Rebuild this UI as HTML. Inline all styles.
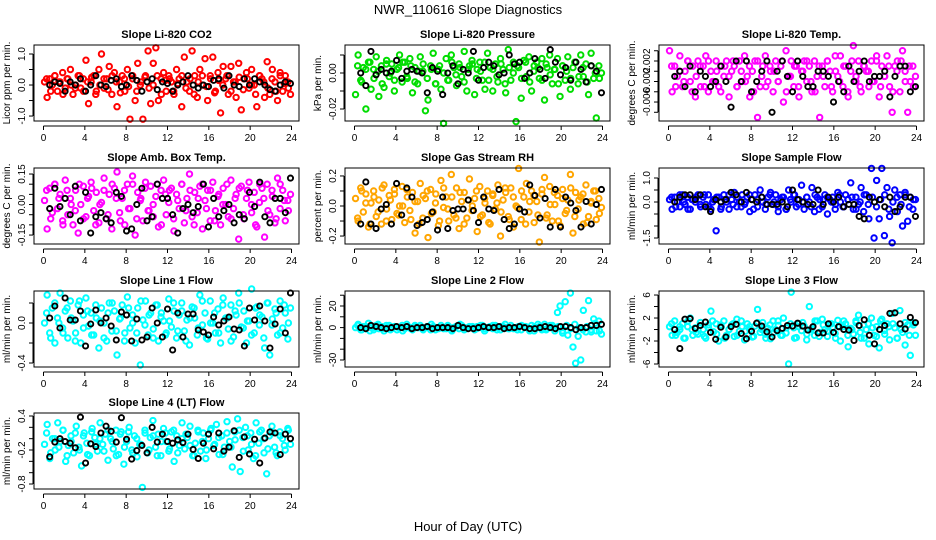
<!DOCTYPE html>
<html><head><meta charset="utf-8"><style>
body{margin:0;background:#fff}
svg{display:block;font-family:"Liberation Sans",Arial,sans-serif}
</style></head><body>
<svg id="chart" width="936" height="540" viewBox="0 0 936 540">
<text x="468" y="14" text-anchor="middle" font-size="13">NWR_110616  Slope Diagnostics</text>
<text x="468" y="531" text-anchor="middle" font-size="13">Hour of Day (UTC)</text>
</svg>
<script>
const xTicks=[0,4,8,12,16,20,24];
const titles=["Slope Li-820 CO2","Slope Li-820 Pressure","Slope Li-820 Temp.","Slope Amb. Box Temp.","Slope Gas Stream RH","Slope Sample Flow","Slope Line 1 Flow","Slope Line 2 Flow","Slope Line 3 Flow","Slope Line 4 (LT) Flow"];
const yLabels=["Licor ppm per min.","kPa per min.","degrees C per min.","degrees C per min.","percent per min.","ml/min per min.","ml/min per min.","ml/min per min.","ml/min per min.","ml/min per min."];
const colors=["#ff0000","#00dd00","#ff00ff","#ff00ff","#ffa500","#0000ff","#00ffff","#00ffff","#00ffff","#00ffff"];
const yDomains=[[-1.16,1.29],[-0.02667,0.01556],[-0.0097,0.00512],[-0.194,0.1796],[-0.253,0.253],[-1.75,1.417],[-0.44,0.32],[-36.5,33.9],[-6.52,6.7],[-0.888,0.453]];
const yTicks=[[-1,-0.5,0,0.5,1],[-0.02,-0.01,0,0.01],[-0.008,-0.006,-0.004,-0.002,0,0.002,0.004],[-0.15,-0.1,-0.05,0,0.05,0.1,0.15],[-0.2,-0.1,0,0.1,0.2],[-1.5,-1,-0.5,0,0.5,1],[-0.4,-0.2,0,0.2],[-30,-20,-10,0,10,20,30],[-6,-4,-2,0,2,4,6],[-0.8,-0.6,-0.4,-0.2,0,0.2,0.4]];
const yTickLabels=[{"-1":"-1.0","0":"0.0","1":"1.0"},{"-0.02":"-0.02","0":"0.00"},{"-0.006":"-0.006","-0.002":"-0.002","0.002":"0.002"},{"-0.15":"-0.15","0":"0.00","0.15":"0.15"},{"-0.2":"-0.2","0":"0.0","0.2":"0.2"},{"-1.5":"-1.5","0":"0.0","1":"1.0"},{"-0.4":"-0.4","0":"0.0"},{"-30":"-30","0":"0","20":"20"},{"-6":"-6","-2":"-2","2":"2","6":"6"},{"-0.8":"-0.8","-0.2":"-0.2","0.4":"0.4"}];

const c1=[0.1,-0.4,0.2,0.0,0.3,-0.2,0.1,0.4,-0.1,0.2,0.5,-0.3,0.0,0.3,-0.1,0.2,0.8,-0.6,0.1,0.3,-0.2,0.5,1.0,-0.1,0.2,0.6,-0.3,0.4,-0.7,0.1,0.3,-0.2,0.5,-1.1,0.2,-0.5,0.7,0.0,-1.1,0.3,1.1,-0.6,0.7,1.2,-0.5,0.2,0.4,-0.2,0.3,0.1,-0.3,0.5,0.2,-0.7,0.9,0.1,-0.2,1.1,0.3,-0.4,0.5,0.0,0.85,-0.5,0.3,0.9,-0.2,0.4,-0.9,0.6,0.2,-0.3,0.6,0.1,-0.4,0.7,-0.8,0.2,0.4,-0.1,0.5,0.0,-0.7,0.3,0.2,-0.4,0.75,-0.3,0.5,0.1,-0.5,0.4,-0.2,0.3,0.1,-0.3];
const d1=[0.2,-0.2,0.3,0.1,-0.3,0.2,0.0,-0.1,0.3,-0.2,0.1,0.25,-0.3,0.0,0.2,-0.15,0.3,0.1,-0.25,0.2,-0.05,0.3,-0.2,0.1,0.25,-0.1,0.0,0.3,-0.3,0.15,0.2,-0.2,0.05,0.3,-0.1,0.2,-0.3,0.1,0.3,-0.05,0.2,-0.25,0.15,0.0,0.3,-0.2,0.1,0.25,-0.15,0.2,0.0,-0.3,0.3,0.1,-0.1,0.2,-0.2,0.3,0.05,-0.1];
const k1=[0.0,0.1,0.05,-0.2,0.1,0.0,0.2,-0.2,0.0,0.3,0.0,-0.05,0.15,0.2,-0.05,0.0,0.3,0.15,-0.2,0.1,0.2,-0.15,0.1,0.05,-0.2,0.0,0.1,0.3,0.0,-0.1,0.0,-0.05,0.15,0.2,-0.1,0.3,0.0,-0.05,0.2,0.0,0.2,0.1,0.0,-0.15,-0.2,0.0,0.1,0.05];
const c2=[-0.012,0.010,-0.004,0.003,-0.020,0.006,-0.009,0.002,0.009,-0.013,0.004,-0.008,0.007,-0.002,0.005,-0.010,0.002,0.010,-0.005,0.006,-0.003,0.008,-0.011,0.003,-0.006,0.009,0.001,-0.021,-0.015,0.004,0.011,-0.006,0.002,-0.009,-0.028,0.008,-0.004,0.010,0.003,-0.007,0.005,-0.002,0.012,-0.010,0.004,0.007,-0.012,0.002,0.006,-0.004,-0.009,0.011,0.003,-0.010,0.005,-0.005,0.008,0.002,-0.011,0.013,-0.004,0.006,-0.027,0.003,-0.014,0.007,-0.002,0.009,-0.010,0.004,0.006,-0.003,0.008,-0.015,0.003,0.010,-0.006,0.002,0.008,-0.013,0.004,-0.004,0.009,-0.009,0.003,0.006,-0.006,0.010,-0.002,0.005,-0.012,0.011,-0.003,-0.025,0.004,0.000];
const d2=[0.004,-0.005,0.002,0.006,-0.003,0.001,-0.006,0.005,0.000,-0.004,0.003,0.006,-0.002,0.004,-0.005,0.001,0.005,-0.003,0.002,-0.006,0.004,0.000,-0.004,0.006,-0.001,0.003,-0.005,0.002,0.005,-0.003,0.001,0.006,-0.004,0.002,-0.002,0.005,-0.006,0.003,0.000,0.004,-0.003,0.006,-0.005,0.001,0.003,-0.004,0.005,-0.001,0.002,-0.006,0.004,0.001,-0.003,0.006,-0.002,0.003,-0.005,0.004,0.000,-0.003];
const k2=[0.000,-0.007,0.012,-0.001,0.002,0.000,0.001,0.007,-0.003,0.001,0.002,0.001,0.000,-0.011,0.003,0.001,-0.012,0.000,0.004,-0.006,0.002,0.000,0.012,-0.004,0.003,0.006,0.004,-0.001,0.000,0.010,0.005,0.006,-0.003,0.000,0.008,0.002,-0.003,0.013,0.006,-0.001,0.003,-0.004,0.006,0.002,-0.005,0.004,0.001,-0.011];
const c3=[0.004,-0.004,0.001,-0.001,0.003,-0.003,0.000,0.002,-0.002,0.001,-0.005,0.002,-0.003,0.001,0.003,-0.004,0.000,-0.002,0.002,-0.003,0.001,-0.001,0.002,-0.005,0.000,0.001,-0.003,0.002,-0.002,0.003,-0.001,-0.005,0.000,0.002,-0.009,-0.003,0.001,0.003,-0.002,0.000,-0.004,0.002,-0.002,0.001,-0.006,0.004,-0.001,0.002,-0.003,0.001,-0.005,0.000,0.002,-0.002,0.001,-0.004,0.002,-0.001,-0.009,0.001,-0.003,0.002,0.000,-0.004,0.003,-0.001,0.003,-0.003,0.001,-0.005,0.000,0.005,-0.002,0.002,-0.004,0.001,0.000,-0.003,0.002,-0.002,0.003,-0.005,0.001,-0.001,0.003,-0.003,-0.008,0.001,0.002,-0.004,0.004,0.000,-0.008,-0.002,0.001,-0.001];
const d3=[0.001,-0.003,0.000,-0.002,0.002,-0.004,-0.001,0.001,-0.003,0.002,-0.002,0.000,-0.004,0.001,-0.001,0.002,-0.003,0.000,-0.002,0.001,-0.004,0.002,-0.001,-0.003,0.001,0.000,-0.002,0.002,-0.004,-0.001,0.001,-0.003,0.000,0.002,-0.002,-0.004,0.001,-0.001,0.002,-0.003,0.000,-0.002,0.001,-0.004,0.002,-0.001,-0.003,0.001,0.000,-0.002,0.002,-0.003,-0.001,0.001,-0.004,0.000,0.002,-0.002,0.001,-0.003];
const k3=[-0.001,0.000,-0.003,0.001,-0.004,0.000,-0.001,-0.003,-0.002,0.001,-0.002,-0.007,0.002,-0.002,0.002,-0.004,-0.002,0.000,0.002,-0.008,0.000,0.002,-0.001,-0.004,0.002,-0.001,-0.003,-0.003,0.000,0.000,-0.001,-0.006,-0.002,-0.004,0.001,-0.002,0.000,0.002,-0.002,-0.001,-0.001,0.000,-0.005,-0.001,0.001,0.001,-0.004,-0.003];
const c4=[0.02,-0.12,0.08,-0.04,0.10,-0.02,0.05,-0.08,0.12,-0.05,0.03,-0.10,0.07,-0.14,0.00,0.09,-0.06,0.04,0.11,-0.03,0.06,-0.09,0.01,0.13,-0.07,0.05,-0.12,0.08,0.16,-0.04,0.03,-0.10,0.10,-0.02,0.14,-0.15,0.06,0.02,-0.08,0.11,-0.03,0.09,-0.06,0.04,-0.11,0.07,0.12,-0.05,0.01,0.08,-0.13,0.05,-0.02,0.10,-0.09,0.03,0.15,-0.06,0.06,-0.04,0.09,-0.12,0.02,0.07,-0.08,0.11,-0.03,0.04,-0.10,0.08,0.00,-0.06,0.12,-0.02,0.05,-0.17,0.09,-0.07,0.03,0.11,-0.04,0.06,-0.11,0.01,0.08,-0.16,0.10,-0.05,0.04,-0.09,0.13,-0.02,0.07,-0.08,0.02,0.05];
const d4=[0.07,-0.07,0.1,0.03,-0.1,0.07,0.0,-0.03,0.1,-0.07,0.03,0.08,-0.1,0.0,0.07,-0.05,0.1,0.03,-0.08,0.07,-0.02,0.1,-0.07,0.03,0.08,-0.03,0.0,0.1,-0.1,0.05,0.07,-0.07,0.02,0.1,-0.03,0.07,-0.1,0.03,0.1,-0.02,0.07,-0.08,0.05,0.0,0.1,-0.07,0.03,0.08,-0.05,0.07,0.0,-0.1,0.1,0.03,-0.03,0.07,-0.07,0.1,0.02,-0.03];
const k4=[-0.02,0.08,-0.01,0.03,-0.05,0.09,-0.08,0.06,-0.14,-0.06,-0.04,-0.07,-0.09,0.06,0.04,-0.13,-0.12,0.00,0.08,-0.08,-0.06,0.10,0.03,0.03,-0.05,-0.14,-0.02,0.00,-0.04,-0.01,0.10,-0.11,0.03,-0.06,-0.03,0.00,-0.09,-0.05,-0.07,0.06,-0.01,0.11,-0.06,-0.09,0.03,0.03,-0.04,0.13];
const c5=[0.05,-0.10,0.12,-0.04,0.08,-0.14,0.02,0.10,-0.07,0.04,-0.12,0.14,-0.02,0.07,-0.09,0.11,-0.05,0.00,0.13,-0.11,0.06,-0.03,0.09,-0.18,0.03,0.15,-0.08,0.05,-0.21,0.11,-0.04,0.08,-0.13,0.17,-0.01,0.06,-0.10,0.21,-0.06,0.12,-0.15,0.03,0.09,-0.08,0.18,-0.03,0.05,-0.17,0.13,-0.06,0.02,0.10,-0.12,0.07,-0.02,0.14,-0.20,0.04,0.09,-0.07,0.12,-0.14,0.00,0.25,-0.09,0.06,0.15,-0.04,0.10,-0.11,0.03,-0.24,0.08,0.19,-0.06,0.13,-0.10,0.01,0.07,-0.13,0.11,-0.05,0.04,0.21,-0.18,0.09,-0.02,0.06,-0.12,0.14,-0.07,0.03,0.10,-0.09,0.05,-0.01];
const d5=[-0.08,0.1,0.02,-0.12,0.06,-0.04,0.12,-0.1,0.04,0.08,-0.06,0.0,0.11,-0.09,0.03,-0.12,0.07,0.1,-0.05,0.02,-0.1,0.12,-0.02,0.06,-0.08,0.09,-0.12,0.04,0.0,0.1,-0.07,0.05,-0.11,0.08,0.02,-0.04,0.12,-0.09,0.06,-0.01,0.1,-0.12,0.03,0.07,-0.06,0.11,-0.08,0.01,0.09,-0.1,0.05,-0.03,0.12,-0.07,0.04,0.08,-0.11,0.02,0.1,-0.05];
const k5=[-0.12,0.16,-0.12,-0.15,-0.02,0.01,-0.12,0.15,-0.06,0.12,0.06,-0.13,-0.11,-0.09,-0.04,-0.16,0.06,-0.15,-0.03,-0.02,-0.02,0.04,-0.03,-0.11,0.06,-0.02,-0.03,0.11,-0.09,-0.15,-0.12,-0.02,-0.04,0.14,0.07,-0.08,0.05,-0.14,0.11,-0.14,0.06,0.02,-0.03,-0.14,0.03,-0.12,0.01,0.11];
const c6=[0.1,-0.3,0.2,0.0,-0.2,0.3,-0.1,0.2,-0.3,0.1,0.0,0.3,-0.2,0.2,-0.1,0.3,-0.3,0.1,-1.2,0.2,-0.2,0.3,0.0,-0.3,0.1,0.4,-0.2,0.0,0.3,-0.1,0.2,-0.4,0.1,0.3,-0.2,0.5,0.0,-0.3,0.2,0.4,-0.1,0.3,-0.4,0.1,0.2,-0.3,0.5,0.0,0.3,-0.2,0.1,0.7,-0.3,0.2,0.0,0.6,-0.4,0.2,0.1,-0.2,0.3,-0.5,0.1,0.2,-0.3,0.4,0.0,-0.2,0.3,0.1,0.8,-0.3,0.2,-0.1,0.6,-0.4,0.3,-0.7,1.4,-1.5,0.9,-0.7,1.4,-1.4,0.6,-0.6,-1.7,0.5,-0.4,0.3,-1.0,0.4,-0.8,0.2,-0.3,0.1];
const d6=[0.2,-0.2,0.3,0.0,-0.3,0.1,0.2,-0.1,0.3,-0.2,0.0,0.2,-0.3,0.1,0.3,-0.1,0.2,-0.2,0.0,0.3,-0.3,0.1,0.2,-0.1,0.3,0.0,-0.2,0.2,-0.3,0.1,0.3,-0.1,0.0,0.2,-0.2,0.3,-0.3,0.1,0.2,0.0,-0.1,0.3,-0.2,0.1,0.2,-0.3,0.0,0.3,-0.1,0.2,-0.2,0.1,0.3,-0.3,0.0,0.2,-0.1,0.3,-0.2,0.1];
const k6=[0.0,0.2,0.3,0.3,0.1,0.3,-0.2,-0.4,0.1,0.0,0.1,0.4,0.3,0.0,0.4,0.1,0.0,0.2,-0.1,-0.1,-0.1,0.0,-0.2,0.5,0.1,0.0,-0.1,-0.1,0.5,-0.1,0.2,0.0,0.2,-0.2,-0.1,-0.1,-0.6,-0.7,0.2,0.0,0.1,-0.2,0.2,-0.4,-0.2,0.2,0.2,-0.6];
const c7=[0.0,0.28,-0.1,0.15,-0.20,0.05,0.30,-0.05,0.12,-0.15,0.22,0.02,-0.10,0.18,-0.20,0.08,0.25,-0.03,0.10,-0.12,0.05,-0.25,0.15,0.00,-0.18,0.20,-0.08,0.12,-0.32,0.04,0.18,-0.10,0.26,-0.05,0.08,-0.20,0.15,-0.42,0.03,0.22,-0.12,0.10,-0.06,0.18,-0.18,0.06,0.02,-0.10,0.24,-0.04,0.12,-0.15,0.08,0.20,-0.08,0.03,-0.22,0.16,0.05,-0.12,0.28,-0.02,0.10,-0.16,0.22,0.00,-0.10,0.14,-0.20,0.25,0.05,-0.06,0.18,-0.14,0.08,0.30,-0.04,0.12,-0.20,0.02,0.34,-0.10,0.16,-0.02,0.06,-0.25,0.20,-0.32,0.04,0.14,-0.12,0.22,-0.05,0.10,-0.16,0.15];
const d7=[0.1,-0.15,0.2,0.0,-0.1,0.15,0.05,-0.18,0.22,-0.05,0.12,-0.12,0.18,0.02,-0.15,0.1,0.2,-0.08,0.05,-0.18,0.15,0.0,-0.1,0.22,-0.02,0.08,-0.15,0.18,0.1,-0.12,0.02,0.2,-0.08,0.12,-0.18,0.05,0.15,-0.05,0.22,-0.15,0.0,0.1,-0.1,0.18,0.05,-0.18,0.12,0.2,-0.05,0.02,-0.12,0.15,0.08,-0.15,0.2,-0.02,0.1,-0.1,0.18,0.0];
const k7=[0.05,0.17,-0.05,0.25,0.03,0.03,0.12,-0.23,-0.01,0.13,0.00,0.05,-0.03,-0.17,0.11,0.08,-0.18,0.04,-0.17,-0.14,0.15,0.00,-0.14,0.14,-0.27,0.10,-0.14,0.09,0.09,-0.07,-0.09,-0.12,0.06,-0.02,0.02,0.06,-0.06,-0.07,-0.23,0.15,0.03,0.17,0.02,-0.25,-0.01,0.14,-0.10,0.30];
const c8=[0,3,-2,1,-1,4,0,-2,2,-1,1,-3,0,2,-1,1,-2,0,2,-1,1,0,-2,1,0,2,-1,0,1,-2,1,0,-1,2,0,-1,1,-2,0,1,-1,2,0,-1,1,0,-2,1,0,2,-1,0,1,-1,2,0,-2,1,0,-1,2,-1,0,1,-2,1,0,-1,2,-3,0,1,-2,3,-1,0,2,-3,14,20,-5,24,-7,32,-18,-33,-8,-30,16,-4,25,-2,8,-3,6,-6];
const d8=[2,-2,1,-3,0,3,-1,2,-2,1,0,-3,3,-1,2,0,-2,1,3,-2,0,-1,2,-3,1,3,-2,0,1,-1,2,-3,0,2,-2,1,3,-1,0,-2,2,1,-3,0,3,-1,-2,2,0,1,-3,2,-1,3,0,-2,1,-4,4,-3];
const k8=[0,-1,2,1,0,-1,0,1,0,1,-1,0,0,1,-1,0,0,0,-1,2,0,-1,-1,0,1,0,0,1,-1,0,0,1,0,-1,-1,0,1,0,-1,1,1,0,-2,0,0,2,2,3];
const c9=[0.5,-1,1.5,-0.5,0,1,-1.5,0.5,2,-1,0.3,-0.8,1.2,0,-1.5,0.8,3.2,-0.4,1,-2,0.5,1.5,-1,0,0.8,-1.2,1.8,-0.3,0.5,-1.8,1,0,-1.3,0.6,3.5,-0.5,1.2,-0.8,0.2,-1.6,1.5,0,0.7,-1,2,-0.6,-6,6.5,0.3,-1.4,1,-0.2,0.6,-1.8,4,0.2,-1,1.5,-0.5,1.8,0,-1.2,1,0.4,-0.7,1.6,-2,0.5,1,-3,0.2,-0.8,1.5,2.5,-1.5,0.8,0,-2.5,2,-1,0.5,-3.2,1.8,-0.2,1,-1.8,2.8,0.3,-1.5,3.3,-0.5,-2.7,0.8,-4.5,1.2,-1];
const d9=[1,-1,0.5,-1.5,1.5,0,-0.5,1.2,-1.2,0.3,1.5,-0.8,0.8,-1.5,0,1,-1,1.5,-0.3,0.5,-1.2,1.2,0,-1.5,0.8,-0.5,1.5,-1,0.3,1,-1.5,0.5,1.2,-0.8,0,1.5,-1.2,0.8,-0.3,1,-1.5,0.5,1.5,-1,0,1.2,-0.5,-1.5,1,0.3,-1.2,1.5,-0.8,0.5,1,-1.5,0,1.2,-1,0.8];
const k9=[0,-3.3,1.8,1.9,0.2,0.7,1.3,-0.5,-1.7,0.4,-1.3,0.5,0.9,-0.7,-1.6,-0.3,1.1,0.6,-0.4,-1.3,-0.2,0.2,0.7,0.6,1.1,0.6,-0.1,0.5,-0.6,-0.6,1.0,-0.5,0.5,0.0,-0.1,-1.9,0.7,1.7,-1.0,-2.5,0,0.7,2.8,2.9,1.0,0.1,2.1,1.2];
const c10=[-0.1,0.25,-0.35,0.0,-0.2,0.28,-0.05,0.15,-0.40,-0.12,0.05,-0.25,0.22,-0.15,-0.48,0.10,-0.08,-0.30,0.18,0.02,-0.22,0.28,-0.10,0.08,-0.38,0.00,-0.18,0.15,-0.28,0.12,-0.45,-0.05,0.20,-0.20,0.05,-0.32,-0.10,-0.86,0.10,-0.25,0.02,0.32,-0.15,0.08,-0.30,0.18,-0.05,-0.22,0.12,-0.40,0.05,-0.12,0.28,-0.18,0.02,0.22,-0.30,-0.08,0.15,-0.22,0.10,-0.35,0.00,0.18,-0.12,0.25,-0.28,0.05,-0.15,0.30,-0.05,-0.50,0.12,0.35,-0.58,0.02,0.20,-0.20,0.10,-0.35,0.28,-0.08,0.15,-0.25,-0.62,0.05,0.22,-0.15,-0.30,0.12,0.00,-0.20,0.18,-0.10];
const d10=[0.1,-0.25,0.0,-0.15,0.15,-0.3,-0.05,0.1,-0.2,0.05,-0.28,0.12,-0.1,0.0,-0.22,0.15,-0.05,-0.3,0.08,-0.15,0.12,-0.25,0.0,-0.1,0.15,-0.2,0.05,-0.3,-0.05,0.1,-0.18,0.15,-0.25,0.0,0.08,-0.12,-0.3,0.12,-0.05,-0.2,0.15,-0.1,0.02,-0.28,0.1,-0.15,-0.02,0.15,-0.22,0.05,-0.1,-0.3,0.12,0.0,-0.18,0.1,-0.25,0.05,-0.12,0.15];
const k10=[-0.32,-0.06,0.00,-0.05,-0.08,-0.16,0.38,-0.43,-0.09,-0.14,0.10,0.22,0.13,-0.06,0.37,-0.01,-0.36,-0.21,-0.12,-0.25,0.20,-0.06,0.08,-0.05,-0.08,-0.02,-0.07,0.08,-0.19,-0.35,-0.08,0.08,-0.18,0.10,-0.22,-0.15,0.14,-0.33,0.03,-0.27,-0.01,-0.43,0.01,0.12,0.10,-0.28,0.08,0.00];
const colorSeries=[c1,c2,c3,c4,c5,c6,c7,c8,c9,c10];
const coreSeries=[d1,d2,d3,d4,d5,d6,d7,d8,d9,d10];
const blackSeries=[k1,k2,k3,k4,k5,k6,k7,k8,k9,k10];

const NS="http://www.w3.org/2000/svg";
const svg=document.getElementById('chart');
const colLeft=[34,345,659], rowTop=[45,168,291,413], boxW=265, boxH=76;
function mk(tag,attrs,parent){const e=document.createElementNS(NS,tag);for(const k in attrs)e.setAttribute(k,attrs[k]);(parent||svg).appendChild(e);return e;}

for(let p=0;p<10;p++){
  const L=colLeft[p%3], T=rowTop[Math.floor(p/3)], B=T+boxH;
  const [ymin,ymax]=yDomains[p];
  const xs=h=>L+9.5+h*(248/24);
  const ys=v=>B-(v-ymin)/(ymax-ymin)*boxH;
  const g=mk('g',{});
  
  
  const t=mk('text',{x:L+boxW/2,y:T-7,'text-anchor':'middle','font-size':'11','font-weight':'bold'},g);
  t.textContent=titles[p];
  
  
  const yl=mk('text',{x:0,y:0,transform:`translate(${L-24},${T+boxH/2}) rotate(-90)`,'text-anchor':'middle','font-size':'10'},g);
  yl.textContent=yLabels[p];
  
  
  const ds=coreSeries[p];
  ds.forEach((v,i)=>{
    const h=0.3+i*(23.4/(ds.length-1));
    const c=mk('circle',{cx:xs(h),cy:ys(v),r:2.7,fill:'none',stroke:colors[p],'stroke-width':2},g);
    
    
  });
  const cs=colorSeries[p];
  cs.forEach((v,i)=>{
    const h=0.1+i*(23.8/(cs.length-1));
    const c=mk('circle',{cx:xs(h),cy:ys(v),r:2.7,fill:'none',stroke:colors[p],'stroke-width':2},g);
    
    
  });
  const ks=blackSeries[p];
  ks.forEach((v,i)=>{
    const h=0.6+i*(23.3/(ks.length-1));
    const c=mk('circle',{cx:xs(h),cy:ys(v),r:2.6,fill:'none',stroke:'#000','stroke-width':1.9},g);
    
    
  });
  const box=mk('rect',{x:L,y:T,width:boxW,height:boxH,fill:'none',stroke:'#000','stroke-width':1},g);
  
  
  const ax=mk('g',{},g);
  
  
  mk('line',{x1:xs(0),x2:xs(24),y1:B+5,y2:B+5,stroke:'#000'},ax);
  xTicks.forEach(h=>{
    mk('line',{x1:xs(h),x2:xs(h),y1:B+5,y2:B+9,stroke:'#000'},ax);
    const tl=mk('text',{x:xs(h),y:B+20,'text-anchor':'middle','font-size':'10'},ax);
    tl.textContent=h;
  });
  const ay=mk('g',{},g);
  
  
  const tk=yTicks[p];
  mk('line',{x1:L-1,x2:L-1,y1:ys(tk[0]),y2:ys(tk[tk.length-1]),stroke:'#000'},ay);
  tk.forEach(v=>{
    mk('line',{x1:L-5,x2:L-1,y1:ys(v),y2:ys(v),stroke:'#000'},ay);
    const lab=yTickLabels[p][String(v)];
    if(lab!==undefined){
      const tl=mk('text',{x:0,y:0,transform:`translate(${L-9},${ys(v)}) rotate(-90)`,'text-anchor':'middle','font-size':'10'},ay);
      tl.textContent=lab;
    }
  });
}
</script>
</body></html>
